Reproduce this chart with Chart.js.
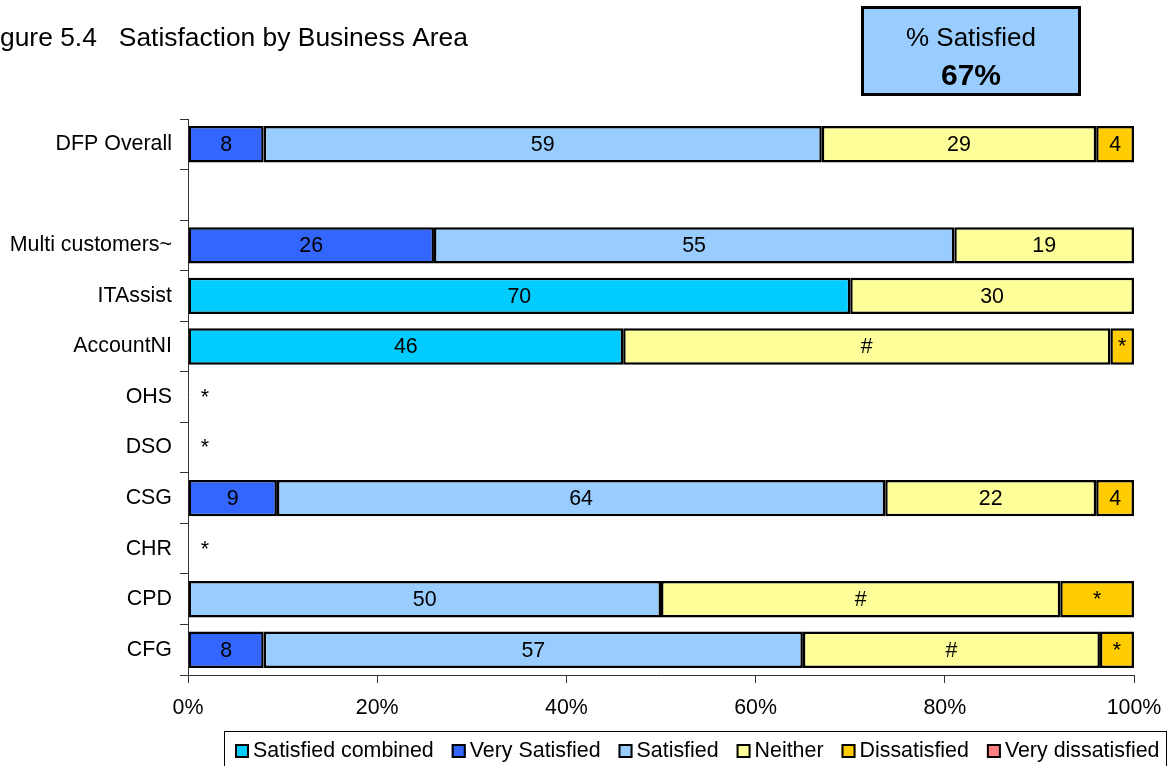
<!DOCTYPE html>
<html>
<head>
<meta charset="utf-8">
<script src="https://cdn.jsdelivr.net/npm/chart.js@4.4.1/dist/chart.umd.min.js"></script>
<style>
  html, body { margin: 0; padding: 0; background: #fff; overflow: hidden; }
  canvas { display: block; }
</style>
</head>
<body>
<canvas id="chart" width="1171" height="766"></canvas>
<script>
// Business areas, top to bottom (the empty entry is a spacer row)
const categories = ['DFP Overall', '', 'Multi customers~', 'ITAssist', 'AccountNI', 'OHS', 'DSO', 'CSG', 'CHR', 'CPD', 'CFG'];

// Percentages per response band
const satisfiedCombined = [null, null, null, 70, 46, null, null, null, null, null, null];
const verySatisfied     = [8, null, 26, null, null, null, null, 9.4, null, null, 8];
const satisfied         = [59, null, 55, null, null, null, null, 64.3, null, 50, 57];
const neither           = [29, null, 19, 30, 51.5, null, null, 22.3, null, 42.2, 31.4];
const dissatisfied      = [4, null, null, null, 2.5, null, null, 4.0, null, 7.8, 3.6];
const veryDissatisfied  = [null, null, null, null, null, null, null, null, null, null, null];

// Suppressed figures are shown as symbols instead of numbers
const neitherMarks      = [null, null, null, null, '#', null, null, null, null, '#', '#'];
const dissatisfiedMarks = [null, null, null, null, '*', null, null, null, null, '*', '*'];

// Areas with too few responses to report
const noDataRows = ['OHS', 'DSO', 'CHR'];

const xTicks = [0, 20, 40, 60, 80, 100];
const overallSatisfied = '67%';

const FONT = '"Liberation Sans", Arial, Helvetica, sans-serif';
const LABEL_SIZE = 21.4;

function series(label, data, color, marks) {
  return {
    label, data, marks,
    backgroundColor: color,
    borderColor: '#000',
    borderWidth: 2.5,
    borderSkipped: false,
    barPercentage: 0.9,
    categoryPercentage: 0.8
  };
}

// Numbers / symbols in the middle of each segment
const segmentLabels = {
  id: 'segmentLabels',
  afterDatasetsDraw(chart) {
    const ctx = chart.ctx;
    ctx.save();
    ctx.font = LABEL_SIZE + 'px ' + FONT;
    ctx.fillStyle = '#000';
    ctx.textAlign = 'center';
    ctx.textBaseline = 'middle';
    chart.data.datasets.forEach((ds, i) => {
      const meta = chart.getDatasetMeta(i);
      meta.data.forEach((bar, j) => {
        const v = ds.data[j];
        if (v == null) return;
        const p = bar.getProps(['x', 'base', 'y'], true);
        const txt = (ds.marks && ds.marks[j]) ? ds.marks[j] : String(Math.round(v));
        ctx.fillText(txt, (p.x + p.base) / 2, p.y + 1);
      });
    });
    // asterisk for rows without reportable data
    const xs = chart.scales.x, ys = chart.scales.y;
    noDataRows.forEach(name => {
      const idx = categories.indexOf(name);
      ctx.fillText('*', xs.getPixelForValue(1.8), ys.getPixelForValue(idx) + 1);
    });
    ctx.restore();
  }
};

// Title, headline box and framed legend
const decorations = {
  id: 'decorations',
  afterDraw(chart) {
    const ctx = chart.ctx;
    ctx.save();
    // title (starts off the left edge)
    ctx.fillStyle = '#000';
    ctx.font = '26.4px ' + FONT;
    ctx.textAlign = 'left';
    ctx.textBaseline = 'alphabetic';
    ctx.fillText('Figure 5.4   Satisfaction by Business Area', -22, 46);

    // headline box
    ctx.fillStyle = '#99CCFF';
    ctx.fillRect(862, 7, 218, 88);
    ctx.lineWidth = 3;
    ctx.strokeStyle = '#000';
    ctx.strokeRect(862.5, 7.5, 217, 87);
    ctx.fillStyle = '#000';
    ctx.textAlign = 'center';
    ctx.font = '26px ' + FONT;
    ctx.fillText('% Satisfied', 971, 46);
    ctx.font = 'bold 30px ' + FONT;
    ctx.fillText(overallSatisfied, 971, 85);

    // legend
    ctx.lineWidth = 1;
    ctx.strokeStyle = '#000';
    ctx.strokeRect(224.5, 731.5, 942, 60);
    ctx.font = LABEL_SIZE + 'px ' + FONT;
    ctx.textAlign = 'left';
    ctx.textBaseline = 'middle';
    let x = 235;
    const yMid = 751;
    chart.data.datasets.forEach(ds => {
      ctx.fillStyle = ds.backgroundColor;
      ctx.fillRect(x, yMid - 7, 14, 14);
      ctx.lineWidth = 2;
      ctx.strokeRect(x + 1, yMid - 6, 12, 12);
      ctx.fillStyle = '#000';
      ctx.fillText(ds.label, x + 18, yMid);
      x += 18 + ctx.measureText(ds.label).width + 18;
    });
    ctx.restore();
  }
};

new Chart(document.getElementById('chart'), {
  type: 'bar',
  data: {
    labels: categories,
    datasets: [
      series('Satisfied combined', satisfiedCombined, '#00CCFF'),
      series('Very Satisfied', verySatisfied, '#3366FF'),
      series('Satisfied', satisfied, '#99CCFF'),
      series('Neither', neither, '#FFFF99', neitherMarks),
      series('Dissatisfied', dissatisfied, '#FFCC00', dissatisfiedMarks),
      series('Very dissatisfied', veryDissatisfied, '#FF8080')
    ]
  },
  options: {
    indexAxis: 'y',
    responsive: false,
    animation: false,
    layout: { padding: { top: 119, right: 37, bottom: 51, left: 0 } },
    plugins: { legend: { display: false }, tooltip: { enabled: false } },
    scales: {
      x: {
        stacked: true,
        min: 0,
        max: 100,
        afterBuildTicks: s => { s.ticks = xTicks.map(v => ({ value: v })); },
        ticks: {
          callback: v => v + '%',
          font: { family: FONT, size: LABEL_SIZE },
          color: '#000',
          padding: 12,
          maxRotation: 0
        },
        grid: { drawOnChartArea: false, tickLength: 8, color: '#333' },
        border: { color: '#333' },
        afterFit: s => { s.height = 40; s.paddingRight = 0; s.paddingLeft = 0; }
      },
      y: {
        stacked: true,
        ticks: {
          font: { family: FONT, size: LABEL_SIZE },
          color: '#000',
          padding: 8,
          autoSkip: false
        },
        grid: { drawOnChartArea: false, tickLength: 8, color: '#333' },
        border: { color: '#333' },
        afterFit: s => { s.width = 188; }
      }
    }
  },
  plugins: [segmentLabels, decorations]
});
</script>
</body>
</html>
